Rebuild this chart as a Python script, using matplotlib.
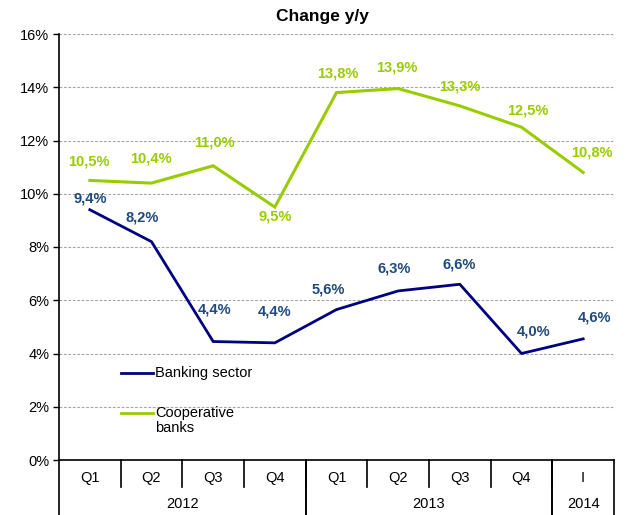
import matplotlib.pyplot as plt
from matplotlib.lines import Line2D

plt.rcParams['font.family'] = ['Liberation Sans', 'DejaVu Sans']

quarters = ['Q1', 'Q2', 'Q3', 'Q4', 'Q1', 'Q2', 'Q3', 'Q4', 'I']
years = ['2012', '2013', '2014']
year_spans = [(0, 3), (4, 7), (8, 8)]

banking = [9.4, 8.2, 4.45, 4.4, 5.65, 6.35, 6.6, 4.0, 4.55]
banking_lbl = ['9,4%', '8,2%', '4,4%', '4,4%', '5,6%', '6,3%', '6,6%', '4,0%', '4,6%']
coop = [10.5, 10.4, 11.05, 9.5, 13.8, 13.95, 13.3, 12.5, 10.8]
coop_lbl = ['10,5%', '10,4%', '11,0%', '9,5%', '13,8%', '13,9%', '13,3%', '12,5%', '10,8%']

legend_labels = ['Banking sector', 'Cooperative\nbanks']

navy = '#000080'
navy_txt = '#1F497D'
green = '#99CC00'

# label offsets in pixels (dx, dy) relative to the point
bank_off = [(0, 11), (-9, 24), (1, 32), (0, 31), (-8, 20), (-4, 22), (-1, 20), (12, 22), (11, 21)]
coop_off = [(-1, 19), (-1, 25), (1, 23), (0, -9), (1, 19), (-1, 21), (0, 19), (6, 17), (9, 20)]

fig = plt.figure(figsize=(6.34, 5.15), dpi=100)
ax = fig.add_axes([59 / 634, 1 - 460 / 515, 555 / 634, 426 / 515])

x = list(range(len(quarters)))
ax.plot(x, coop, color=green, lw=2.2, solid_joinstyle='miter')
ax.plot(x, banking, color=navy, lw=2.0, solid_joinstyle='miter')

for i in x:
    ax.annotate(coop_lbl[i], (i, coop[i]), xytext=(coop_off[i][0] * 0.72, coop_off[i][1] * 0.72),
                textcoords='offset points', ha='center', va='center',
                color=green, fontsize=10.5, fontweight='bold')
    ax.annotate(banking_lbl[i], (i, banking[i]), xytext=(bank_off[i][0] * 0.72, bank_off[i][1] * 0.72),
                textcoords='offset points', ha='center', va='center',
                color=navy_txt, fontsize=10.5, fontweight='bold')

ax.set_xlim(-0.5, len(quarters) - 0.5)
ax.set_ylim(0, 16)
ax.set_yticks(range(0, 17, 2))
ax.set_yticklabels([f'{v}%' for v in range(0, 17, 2)], fontsize=10.5)
ax.tick_params(axis='y', length=4, width=1, direction='out', pad=3)
for v in range(2, 17, 2):
    ax.axhline(v, color='#A6A6A6', lw=0.8, ls=(0, (2.5, 1.5)), zorder=0)

for s in ['top', 'right']:
    ax.spines[s].set_visible(False)
ax.spines['left'].set_linewidth(1.2)
ax.spines['bottom'].set_linewidth(1.2)

# category axis: quarters and years
ax.set_xticks([])
trans = ax.get_xaxis_transform()
h1 = 27 / 426
h2 = 55 / 426
for i, q in enumerate(quarters):
    ax.text(i, -18 / 426, q, transform=trans, ha='center', va='center', fontsize=10.5)
for b in [k + 0.5 for k in range(len(quarters) - 1)]:
    ax.plot([b, b], [0, -h1], transform=trans, color='black', lw=1.2, clip_on=False)
for (a, b), yr in zip(year_spans, years):
    ax.text((a + b) / 2, -44 / 426, yr, transform=trans, ha='center', va='center', fontsize=10.5)
    for e in (a - 0.5, b + 0.5):
        ax.plot([e, e], [0, -h2], transform=trans, color='black', lw=1.2, clip_on=False)

# legend
for k, (lab, col) in enumerate(zip(legend_labels, [navy, green])):
    yy = (460 - 373 - 40 * k) / 426
    ax.add_line(Line2D([62 / 555, 94 / 555], [yy, yy], transform=ax.transAxes, color=col, lw=2))
    ax.text(96 / 555, yy + 7 / 426, lab, transform=ax.transAxes, ha='left', va='top',
            fontsize=10.5, linespacing=1.1)

fig.text(322 / 634, 1 - 17 / 515, 'Change y/y', ha='center', va='center',
         fontsize=12.5, fontweight='bold')

fig.savefig('out.png', dpi=100)
